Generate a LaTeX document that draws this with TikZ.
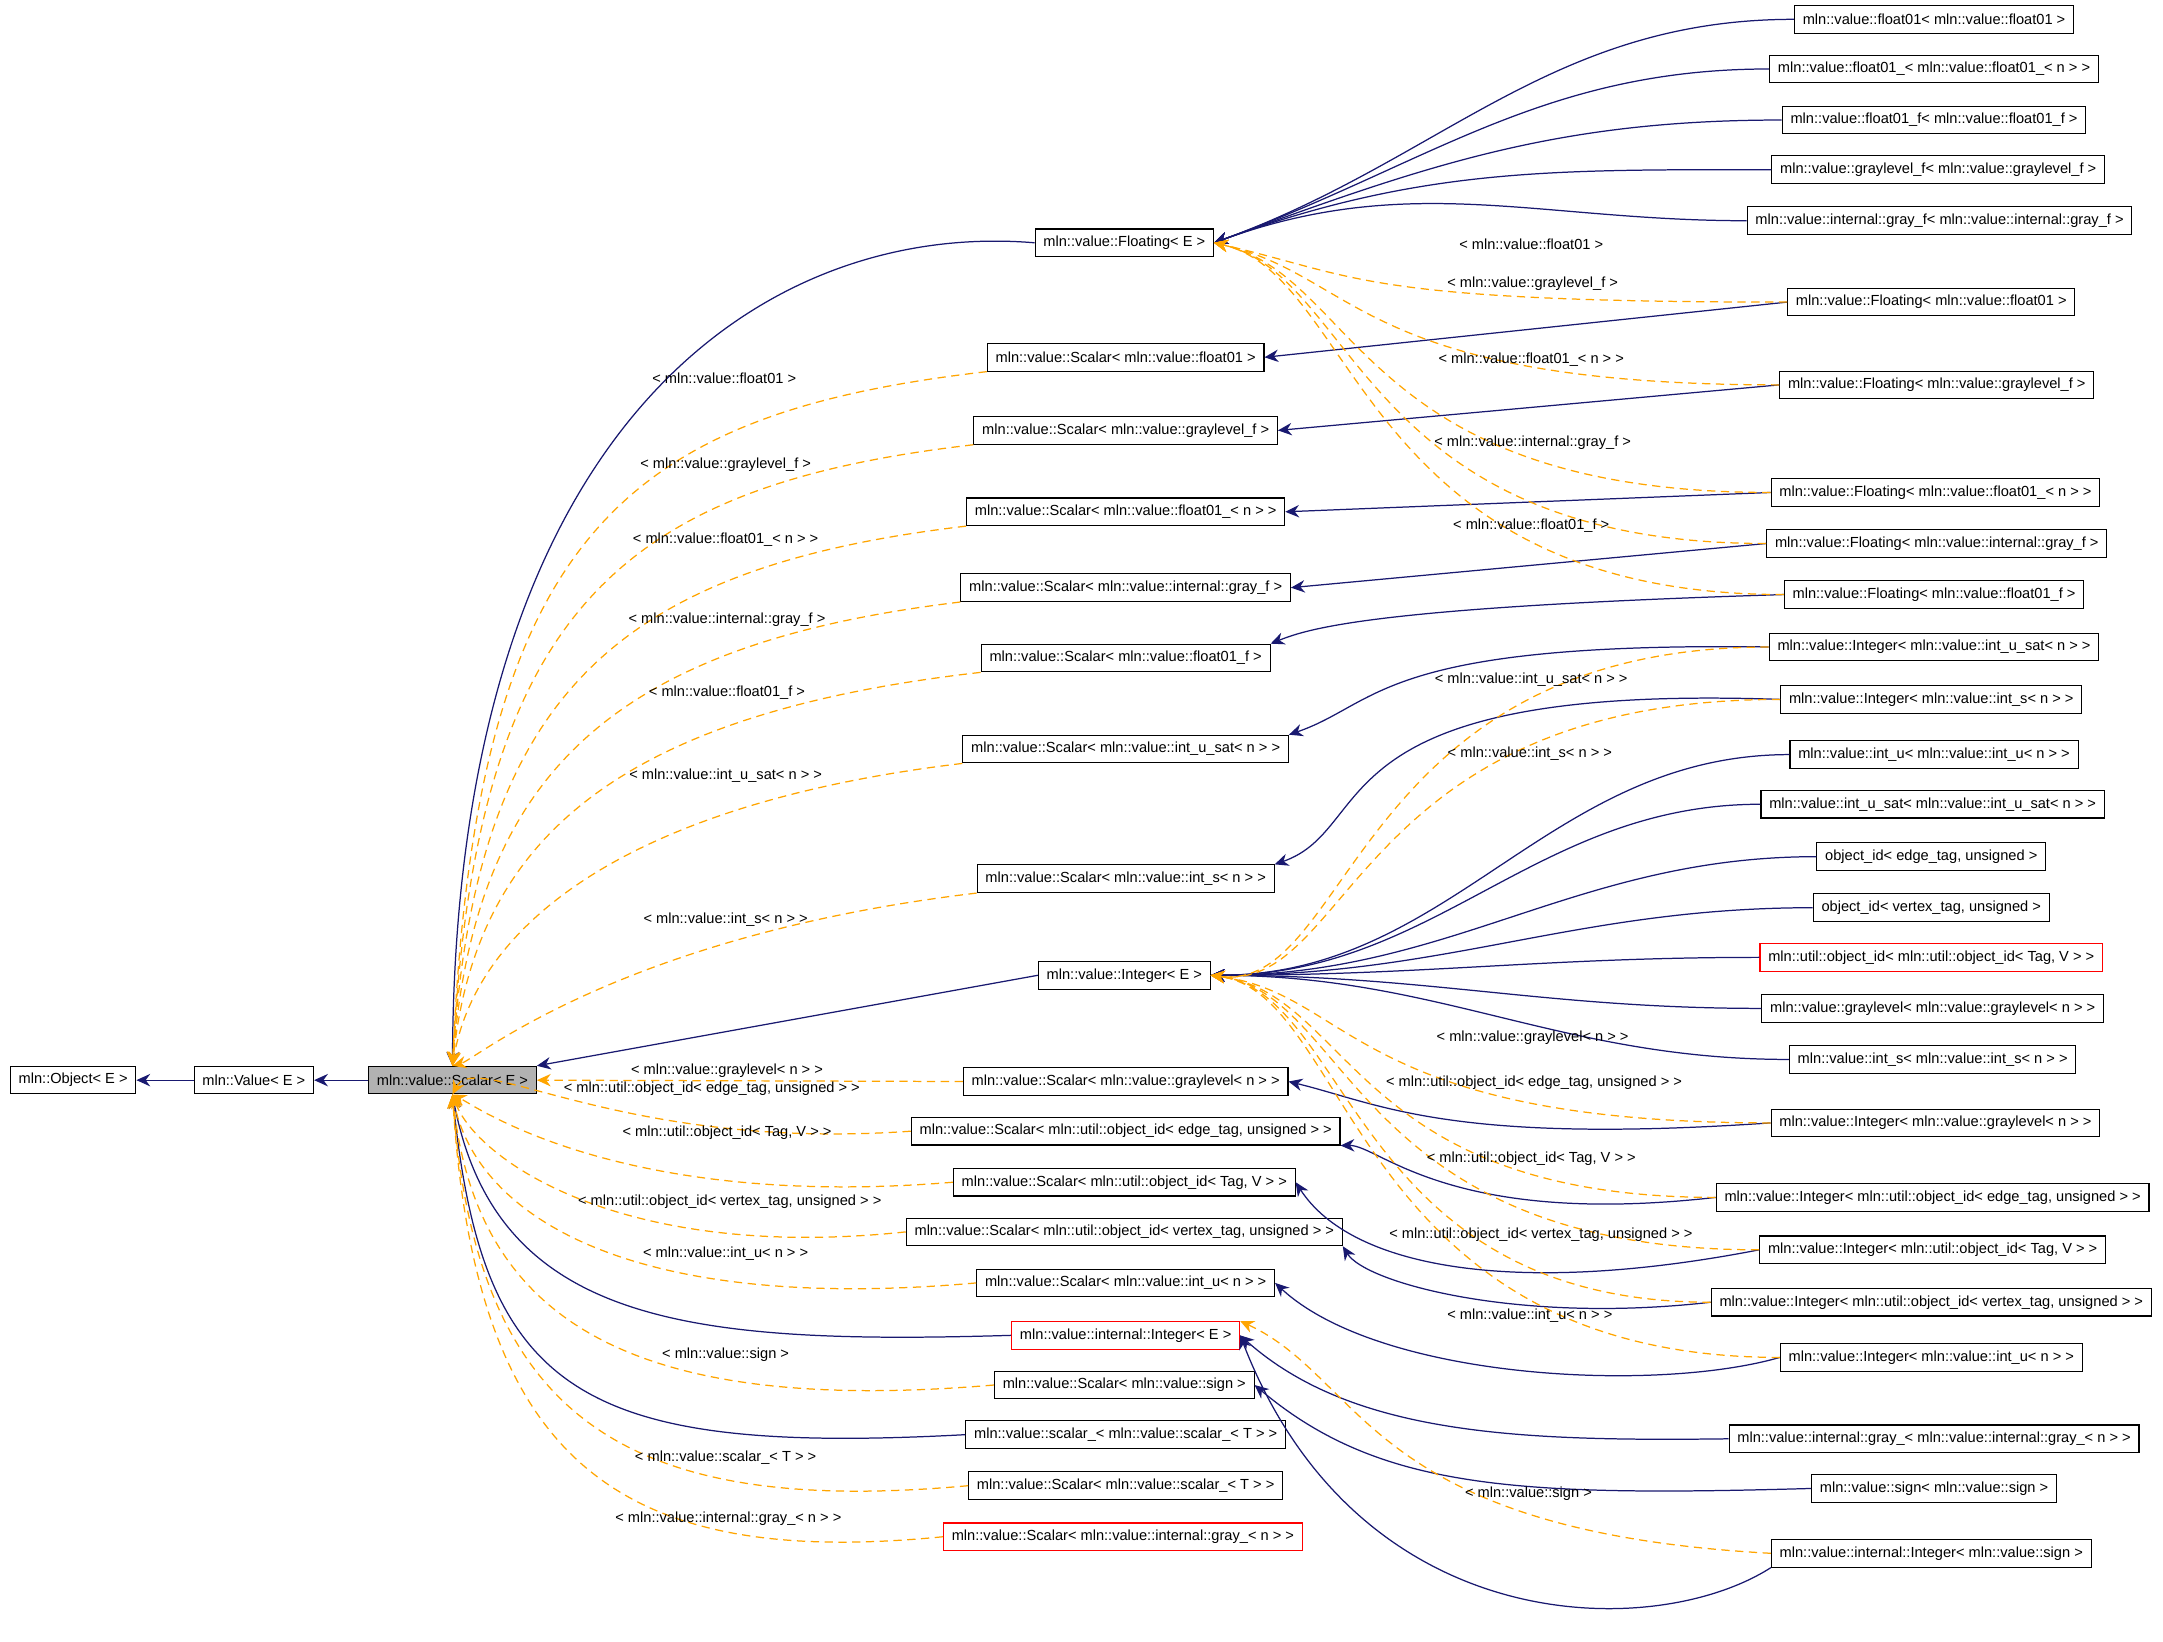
\documentclass[tikz,border=0pt]{standalone}
\usepackage{fontspec}
\setmainfont{Liberation Sans}
\usetikzlibrary{arrows.meta}
\definecolor{navy}{RGB}{25,25,112}
\definecolor{tor}{RGB}{255,165,0}
\tikzset{
 bx/.style={draw=black,line width=0.4pt,fill=white,inner xsep=3pt,inner ysep=0pt,minimum height=10pt,font=\fontsize{5.3}{6}\selectfont},
 rbx/.style={bx,draw=red},
 inh/.style={draw=navy,line width=0.45pt,-{Stealth[length=5pt,width=4.5pt]}},
 tmpl/.style={draw=tor,line width=0.45pt,dashed,dash pattern=on 3pt off 2pt,-{Stealth[length=5pt,width=4.5pt,fill=tor]}},
 lb/.style={font=\fontsize{5.3}{6}\selectfont,inner sep=0pt}
}
\begin{document}
\begin{tikzpicture}[x=0.5pt,y=-0.5pt]
\useasboundingbox[fill=white] (0,0) rectangle (1568,1190);
% ---- edges drawn first (coordinates of nodes defined below via named coordinates)
% nodes
\node[bx] (O) at (53,783) {mln::Object< E >};
\node[bx] (V) at (184,783) {mln::Value< E >};
\node[bx,fill=black!30] (S) at (328,783) {mln::value::Scalar< E >};
\node[bx] (F) at (815,176) {mln::value::Floating< E >};
\node[bx] (Sf01) at (816,259) {mln::value::Scalar< mln::value::float01 >};
\node[bx] (Sgl) at (816,312) {mln::value::Scalar< mln::value::graylevel\_f >};
\node[bx] (Sf01n) at (816,371) {mln::value::Scalar< mln::value::float01\_< n > >};
\node[bx] (Sgray) at (816,426) {mln::value::Scalar< mln::value::internal::gray\_f >};
\node[bx] (Sf01f) at (816,477) {mln::value::Scalar< mln::value::float01\_f >};
\node[bx] (Sius) at (816,543) {mln::value::Scalar< mln::value::int\_u\_sat< n > >};
\node[bx] (Sis) at (816,637) {mln::value::Scalar< mln::value::int\_s< n > >};
\node[bx] (I) at (815,707) {mln::value::Integer< E >};
\node[bx] (Sgln) at (816,784) {mln::value::Scalar< mln::value::graylevel< n > >};
\node[bx] (Soe) at (816,820) {mln::value::Scalar< mln::util::object\_id< edge\_tag, unsigned > >};
\node[bx] (Sot) at (815,857) {mln::value::Scalar< mln::util::object\_id< Tag, V > >};
\node[bx] (Sov) at (815,893) {mln::value::Scalar< mln::util::object\_id< vertex\_tag, unsigned > >};
\node[bx] (Siu) at (816,930) {mln::value::Scalar< mln::value::int\_u< n > >};
\node[rbx] (II) at (816,968) {mln::value::internal::Integer< E >};
\node[bx] (Ssign) at (815,1004) {mln::value::Scalar< mln::value::sign >};
\node[bx] (sc) at (816,1040) {mln::value::scalar\_< mln::value::scalar\_< T > >};
\node[bx] (SsT) at (816,1077) {mln::value::Scalar< mln::value::scalar\_< T > >};
\node[rbx] (Sig) at (814,1114) {mln::value::Scalar< mln::value::internal::gray\_< n > >};
\node[bx] (r1) at (1402,14) {mln::value::float01< mln::value::float01 >};
\node[bx] (r2) at (1402,50) {mln::value::float01\_< mln::value::float01\_< n > >};
\node[bx] (r3) at (1402,87) {mln::value::float01\_f< mln::value::float01\_f >};
\node[bx] (r4) at (1405,123) {mln::value::graylevel\_f< mln::value::graylevel\_f >};
\node[bx] (r5) at (1406,160) {mln::value::internal::gray\_f< mln::value::internal::gray\_f >};
\node[bx] (r6) at (1400,219) {mln::value::Floating< mln::value::float01 >};
\node[bx] (r7) at (1404,279) {mln::value::Floating< mln::value::graylevel\_f >};
\node[bx] (r8) at (1403,357) {mln::value::Floating< mln::value::float01\_< n > >};
\node[bx] (r9) at (1404,394) {mln::value::Floating< mln::value::internal::gray\_f >};
\node[bx] (r10) at (1402,431) {mln::value::Floating< mln::value::float01\_f >};
\node[bx] (r11) at (1402,469) {mln::value::Integer< mln::value::int\_u\_sat< n > >};
\node[bx] (r12) at (1400,507) {mln::value::Integer< mln::value::int\_s< n > >};
\node[bx] (r13) at (1402,547) {mln::value::int\_u< mln::value::int\_u< n > >};
\node[bx] (r14) at (1401,583) {mln::value::int\_u\_sat< mln::value::int\_u\_sat< n > >};
\node[bx] (r15) at (1400,621) {object\_id< edge\_tag, unsigned >};
\node[bx] (r16) at (1400,658) {object\_id< vertex\_tag, unsigned >};
\node[rbx] (r17) at (1400,694) {mln::util::object\_id< mln::util::object\_id< Tag, V > >};
\node[bx] (r18) at (1401,731) {mln::value::graylevel< mln::value::graylevel< n > >};
\node[bx] (r19) at (1401,768) {mln::value::int\_s< mln::value::int\_s< n > >};
\node[bx] (r20) at (1403,814) {mln::value::Integer< mln::value::graylevel< n > >};
\node[bx] (r21) at (1401,868) {mln::value::Integer< mln::util::object\_id< edge\_tag, unsigned > >};
\node[bx] (r22) at (1401,906) {mln::value::Integer< mln::util::object\_id< Tag, V > >};
\node[bx] (r23) at (1400,944) {mln::value::Integer< mln::util::object\_id< vertex\_tag, unsigned > >};
\node[bx] (r24) at (1400,984) {mln::value::Integer< mln::value::int\_u< n > >};
\node[bx] (r25) at (1402,1043) {mln::value::internal::gray\_< mln::value::internal::gray\_< n > >};
\node[bx] (r26) at (1402,1079) {mln::value::sign< mln::value::sign >};
\node[bx] (r27) at (1400,1126) {mln::value::internal::Integer< mln::value::sign >};
% ---- edges to S
\draw[inh] (V) -- (O);
\draw[inh] (S) -- (V);
\draw[inh] (F.west) .. controls (560,160) and (330,300) .. (S.north);
\draw[inh] (I.west) -- (S.north east);
\draw[inh] (II.west) .. controls (500,975) and (360,960) .. (S.south);
\draw[inh] (sc.west) .. controls (420,1055) and (350,1010) .. (S.south);
\foreach \n/\y in {Sf01/270,Sgl/322,Sf01n/381,Sgray/436,Sf01f/487,Sius/553,Sis/648}{
  \draw[tmpl] (\n.south west) .. controls (450,\y+30) and (345,\y+120) .. (S.north);}
\draw[tmpl] (Sgln.west) -- (S.east);
\foreach \n/\y in {Soe/820,Sot/862,Sov/900,Siu/938,Ssign/1012,SsT/1085,Sig/1122}{
  \draw[tmpl] (\n.west) .. controls (450,\y+15) and (345,\y-60) .. (S.south);}
% ---- to F
\foreach \r in {r1,r2,r3,r4,r5}{\draw[inh] (\r.west) to[out=180,in=20] (F.east);}
\draw[inh] (r6.west) -- (Sf01.east);
\draw[inh] (r7.west) -- (Sgl.east);
\draw[inh] (r8.west) -- (Sf01n.east);
\draw[inh] (r9.west) -- (Sgray.east);
\draw[inh] (r10.west) .. controls (1000,440) and (950,455) .. (Sf01f.north east);
\foreach \r/\y in {r6/219,r7/279,r8/357,r9/394,r10/431}{\draw[tmpl] (\r.west) .. controls (985,\y) and (985,200) .. (F.east);}
% ---- right to middle integer
\draw[inh] (r11.west) .. controls (1000,465) and (1000,510) .. (Sius.north east);
\draw[inh] (r12.west) .. controls (950,495) and (1000,600) .. (Sis.north east);
\foreach \r in {r13,r14,r15,r16,r17,r18,r19}{\draw[inh] (\r.west) to[out=180,in=0] (I.east);}
\draw[inh] (r20.west) .. controls (1050,830) and (1000,800) .. (Sgln.east);
\draw[inh] (r21.west) .. controls (1050,890) and (1000,830) .. (Soe.south east);
\draw[inh] (r22.west) .. controls (1100,940) and (980,920) .. (Sot.east);
\draw[inh] (r23.west) .. controls (1100,960) and (990,930) .. (Sov.south east);
\draw[inh] (r24.west) .. controls (1200,1010) and (1000,1000) .. (Siu.east);
\draw[inh] (r25.west) .. controls (1100,1045) and (980,1040) .. (II.east);
\draw[inh] (r26.west) .. controls (1100,1085) and (1000,1080) .. (Ssign.east);
\draw[inh] (r27.south west) .. controls (1200,1190) and (985,1190) .. (II.east);
\foreach \r/\y in {r11/469,r12/507,r20/814,r21/868,r22/906,r23/944,r24/984}{\draw[tmpl] (\r.west) .. controls (980,\y) and (980,720) .. (I.east);}
\draw[tmpl] (r27.west) .. controls (990,1110) and (990,1000) .. (II.north east);
% ---- labels
\foreach \nm/\x/\y/\t in {
 a1/525/274/{< mln::value::float01 >},
 a2/526/337/{< mln::value::graylevel\_f >},
 a3/526/391/{< mln::value::float01\_< n > >},
 a4/527/449/{< mln::value::internal::gray\_f >},
 a5/527/502/{< mln::value::float01\_f >},
 a6/526/562/{< mln::value::int\_u\_sat< n > >},
 a7/526/667/{< mln::value::int\_s< n > >},
 a8/527/776/{< mln::value::graylevel< n > >},
 a9/516/789/{< mln::util::object\_id< edge\_tag, unsigned > >},
 a10/527/821/{< mln::util::object\_id< Tag, V > >},
 a11/529/871/{< mln::util::object\_id< vertex\_tag, unsigned > >},
 a12/526/909/{< mln::value::int\_u< n > >},
 a13/526/982/{< mln::value::sign >},
 a14/526/1057/{< mln::value::scalar\_< T > >},
 a15/528/1101/{< mln::value::internal::gray\_< n > >},
 b1/1110/177/{< mln::value::float01 >},
 b2/1111/206/{< mln::value::graylevel\_f >},
 b3/1110/261/{< mln::value::float01\_< n > >},
 b4/1111/321/{< mln::value::internal::gray\_f >},
 b5/1110/381/{< mln::value::float01\_f >},
 c1/1110/493/{< mln::value::int\_u\_sat< n > >},
 c2/1109/546/{< mln::value::int\_s< n > >},
 c3/1111/752/{< mln::value::graylevel< n > >},
 c4/1112/785/{< mln::util::object\_id< edge\_tag, unsigned > >},
 c5/1110/840/{< mln::util::object\_id< Tag, V > >},
 c6/1117/895/{< mln::util::object\_id< vertex\_tag, unsigned > >},
 c7/1109/954/{< mln::value::int\_u< n > >},
 c8/1108/1083/{< mln::value::sign >}}
 {\node[lb] (\nm) at (\x,\y) {\t};}
\end{tikzpicture}
\end{document}
